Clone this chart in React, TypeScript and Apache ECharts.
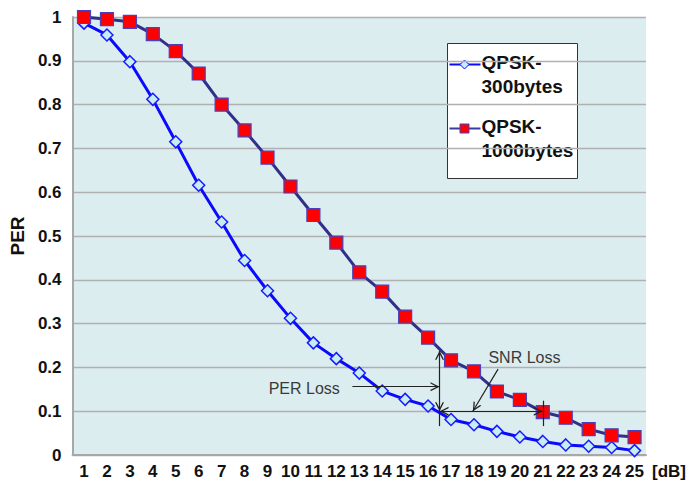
import React, { useEffect, useRef } from "react";
import * as echarts from "echarts";

const snrDb = [1, 2, 3, 4, 5, 6, 7, 8, 9, 10, 11, 12, 13, 14, 15, 16, 17, 18, 19, 20, 21, 22, 23, 24, 25];
const per300 = [0.986, 0.959, 0.898, 0.812, 0.715, 0.616, 0.532, 0.444, 0.375, 0.312, 0.256, 0.22, 0.187, 0.146, 0.127, 0.112, 0.081, 0.069, 0.054, 0.041, 0.031, 0.023, 0.02, 0.017, 0.01];
const per1000 = [1.0, 0.995, 0.989, 0.961, 0.922, 0.871, 0.8, 0.741, 0.679, 0.613, 0.548, 0.485, 0.417, 0.373, 0.316, 0.268, 0.216, 0.191, 0.145, 0.126, 0.098, 0.085, 0.059, 0.045, 0.041];
const seriesNames = ["QPSK-\n300bytes", "QPSK-\n1000bytes"];

// annotation geometry in data units: [x1, y1, x2, y2, arrowStart, arrowEnd]
const perLossArrow = [12.7, 0.156, 16.5, 0.156, false, true];
const perLossBracket = [16.5, 0.1, 16.5, 0.238, true, true];
const perLossTail = [16.5, 0.066, 16.5, 0.1, false, false];
const snrLossBracket = [16.5, 0.1, 21, 0.1, true, true];
const snrLossTick = [21, 0.066, 21, 0.124, false, false];
const snrLossArrow = [19.05, 0.196, 17.95, 0.1, false, true];
const perLossLabel = [10.6, 0.151, "PER Loss"];
const snrLossLabel = [20.2, 0.222, "SNR Loss"];

const FONT = "'Liberation Sans', Arial, sans-serif";
const chevron = "path://M5,0L10,10L8.4,10L5,3.2L1.6,10L0,10Z";

const BLUE_LINE = "#0a0aff";
const BLUE_FILL = "#c6eef0";
const RED_LINE = "#30308a";
const RED_FILL = "#ff0000";
const RED_BORDER = "#4a3fc0";

function toLine(a: any[]) {
  const [x1, y1, x2, y2, s1, s2] = a;
  return [
    { coord: [x1, y1], symbol: s1 ? chevron : "none", symbolSize: 9, symbolOffset: [0, 4.5] },
    { coord: [x2, y2], symbol: s2 ? chevron : "none", symbolSize: 9, symbolOffset: [0, 4.5] },
  ];
}

function toLabel(a: any[]) {
  const [x, y, text] = a;
  return {
    coord: [x, y],
    symbol: "rect",
    symbolSize: 1,
    itemStyle: { color: "transparent" },
    label: {
      show: true,
      position: "inside",
      formatter: text,
      color: "#3a3a3a",
      fontSize: 16,
      fontFamily: FONT,
    },
  };
}

const legendTextStyle = {
  fontFamily: FONT,
  fontWeight: "bold",
  fontSize: 19,
  lineHeight: 24,
  fill: "#111111",
  verticalAlign: "top",
  align: "left",
};

export default function App() {
  const ref = useRef<HTMLDivElement>(null);
  useEffect(() => {
    if (!ref.current) return;
    const chart = echarts.init(ref.current, null, { renderer: "svg" });
    chart.setOption({
      animation: false,
      backgroundColor: "#ffffff",
      textStyle: { fontFamily: FONT },
      grid: {
        left: 70,
        right: 37,
        top: 17,
        bottom: 29,
        show: true,
        backgroundColor: "#dcedf0",
        borderWidth: 0,
      },
      graphic: [
        {
          type: "group",
          left: 447,
          top: 43,
          z: 100,
          children: [
            {
              type: "rect",
              shape: { x: 0, y: 0, width: 130, height: 135 },
              style: { fill: "#ffffff", stroke: "#333333", lineWidth: 1 },
            },
            {
              type: "line",
              shape: { x1: 2, y1: 21, x2: 33, y2: 21 },
              style: { stroke: BLUE_LINE, lineWidth: 2 },
            },
            {
              type: "polygon",
              shape: { points: [[17, 16.5], [21.5, 21], [17, 25.5], [12.5, 21]] },
              style: { fill: BLUE_FILL, stroke: BLUE_LINE, lineWidth: 1 },
            },
            {
              type: "text",
              x: 34,
              y: 7,
              style: { ...legendTextStyle, text: seriesNames[0] },
            },
            {
              type: "line",
              shape: { x1: 2, y1: 85, x2: 33, y2: 85 },
              style: { stroke: "#3a3aa0", lineWidth: 2 },
            },
            {
              type: "rect",
              shape: { x: 12.5, y: 80.5, width: 9, height: 9 },
              style: { fill: RED_FILL, stroke: RED_BORDER, lineWidth: 1 },
            },
            {
              type: "text",
              x: 34,
              y: 71,
              style: { ...legendTextStyle, text: seriesNames[1] },
            },
          ],
        },
      ],
      xAxis: {
        type: "value",
        min: 0.5,
        max: 25.5,
        name: "[dB]",
        nameLocation: "end",
        nameGap: 6,
        nameTextStyle: {
          fontFamily: FONT,
          fontWeight: "bold",
          fontSize: 17,
          color: "#111111",
          verticalAlign: "top",
          padding: [8, 0, 0, 0],
        },
        axisLine: { show: true, lineStyle: { color: "#a8a8a8", width: 2 } },
        axisTick: { show: false },
        splitLine: { show: false },
        axisLabel: {
          customValues: snrDb,
          margin: 8,
          fontFamily: FONT,
          fontWeight: "bold",
          fontSize: 17,
          color: "#111111",
        },
      },
      yAxis: {
        type: "value",
        min: 0,
        max: 1,
        interval: 0.1,
        name: "PER",
        nameLocation: "middle",
        nameRotate: 90,
        nameGap: 45,
        nameTextStyle: {
          fontFamily: FONT,
          fontWeight: "bold",
          fontSize: 19,
          color: "#111111",
        },
        axisLine: { show: true, lineStyle: { color: "#a8a8a8", width: 2 } },
        axisTick: { show: false },
        splitLine: { show: true, lineStyle: { color: "#b0b0b0", width: 1.3 } },
        axisLabel: {
          margin: 11,
          fontFamily: FONT,
          fontWeight: "bold",
          fontSize: 17,
          color: "#111111",
        },
      },
      series: [
        {
          name: seriesNames[0],
          type: "line",
          data: snrDb.map((x, i) => [x, per300[i]]),
          symbol: "diamond",
          symbolSize: 12,
          showAllSymbol: true,
          lineStyle: { color: BLUE_LINE, width: 3 },
          itemStyle: { color: BLUE_FILL, borderColor: "#1a1aff", borderWidth: 1.5 },
          z: 2,
          markLine: {
            silent: true,
            animation: false,
            symbol: ["none", "none"],
            lineStyle: { color: "#222222", width: 1.2, type: "solid" },
            label: { show: false },
            emphasis: { disabled: true },
            data: [
              toLine(perLossArrow),
              toLine(perLossBracket),
              toLine(perLossTail),
              toLine(snrLossBracket),
              toLine(snrLossTick),
              toLine(snrLossArrow),
            ],
          },
          markPoint: {
            silent: true,
            animation: false,
            data: [toLabel(perLossLabel), toLabel(snrLossLabel)],
          },
        },
        {
          name: seriesNames[1],
          type: "line",
          data: snrDb.map((x, i) => [x, per1000[i]]),
          symbol: "rect",
          symbolSize: 13,
          showAllSymbol: true,
          lineStyle: { color: RED_LINE, width: 3 },
          itemStyle: { color: RED_FILL, borderColor: RED_BORDER, borderWidth: 1.2 },
          z: 3,
        },
      ],
    });
    return () => chart.dispose();
  }, []);
  return (
    <div
      ref={ref}
      style={{ position: "absolute", left: 0, top: 0, width: 689, height: 484 }}
    />
  );
}
